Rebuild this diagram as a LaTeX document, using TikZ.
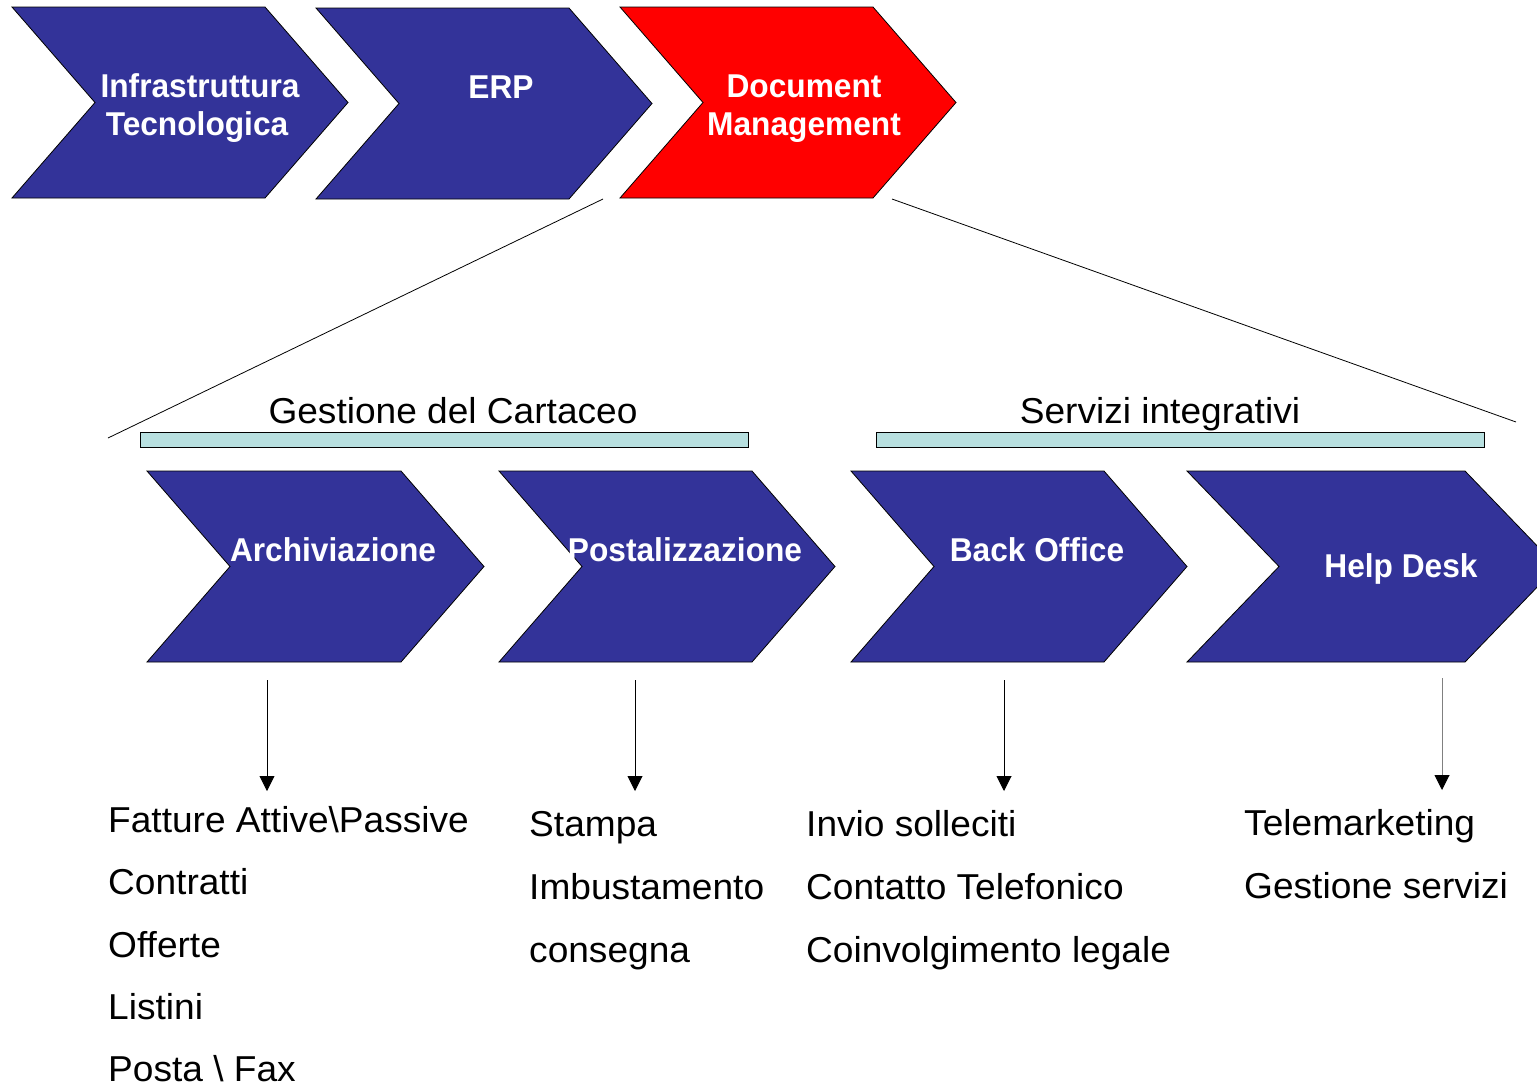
\documentclass[tikz,border=0pt]{standalone}
\usepackage{fontspec}
\setmainfont{Liberation Sans}
\usetikzlibrary{arrows.meta}
\definecolor{chevblue}{HTML}{333399}
\definecolor{chevred}{HTML}{FF0000}
\definecolor{barcyan}{HTML}{B8E0E0}
\tikzset{
  chev/.style={draw=black, line width=0.8pt, line join=miter},
  boldlbl/.style={text=white, font=\fontsize{33}{38}\selectfont\bfseries, inner sep=0pt, anchor=base, xscale=0.96},
  headlbl/.style={text=black, font=\fontsize{36}{42}\selectfont, inner sep=0pt, anchor=base, xscale=1.03},
  reglbl/.style={text=black, font=\fontsize{36}{42}\selectfont, inner sep=0pt, anchor=base west, xscale=1.03},
  bar/.style={draw=black, fill=barcyan, line width=0.9pt},
  thinline/.style={draw=black, line width=0.8pt},
  arr/.style={draw=black, line width=0.9pt, -{Triangle[length=15pt,width=15pt]}},
  arrgray/.style={draw=gray, line width=0.9pt, -{Triangle[length=15pt,width=15pt,color=black,fill=black]}},
}
\begin{document}
\begin{tikzpicture}[x=1pt,y=-1pt]
\useasboundingbox (0,0) rectangle (1537,1088);
\fill[white] (0,0) rectangle (1537,1088);

% top chevrons
\filldraw[chev, fill=chevblue] (12,7) -- (265,7) -- (348,102.5) -- (265,198) -- (12,198) -- (95,102.5) -- cycle;
\filldraw[chev, fill=chevblue] (316,8) -- (569,8) -- (652,103.5) -- (569,199) -- (316,199) -- (399,103.5) -- cycle;
\filldraw[chev, fill=chevred] (620,7) -- (873,7) -- (956,102.5) -- (873,198) -- (620,198) -- (703,102.5) -- cycle;

\node[boldlbl] (t1a) at (200,97) {Infrastruttura};
\node[boldlbl] (t1b) at (197,135) {Tecnologica};
\node[boldlbl] (t2) at (501,98) {ERP};
\node[boldlbl] (t3a) at (804,97) {Document};
\node[boldlbl] (t3b) at (804,135) {Management};

% zoom lines
\coordinate (zl1) at (603,199);
\coordinate (zl2) at (108,438);
\coordinate (zr1) at (892,199);
\coordinate (zr2) at (1516,422);
\draw[thinline] (zl1) -- (zl2);
\draw[thinline] (zr1) -- (zr2);

% group headers and bars
\node[headlbl] (g1) at (453,423) {Gestione del Cartaceo};
\node[headlbl] (g2) at (1160,423) {Servizi integrativi};
\draw[bar] (140,432) rectangle (748,447);
\draw[bar] (876,432) rectangle (1484,447);

% bottom chevrons
\filldraw[chev, fill=chevblue] (147,471) -- (401,471) -- (484,566.5) -- (401,662) -- (147,662) -- (230,566.5) -- cycle;
\filldraw[chev, fill=chevblue] (499,471) -- (752,471) -- (835,566.5) -- (752,662) -- (499,662) -- (582,566.5) -- cycle;
\filldraw[chev, fill=chevblue] (851,471) -- (1104,471) -- (1187,566.5) -- (1104,662) -- (851,662) -- (934,566.5) -- cycle;
\filldraw[chev, fill=chevblue] (1187,471) -- (1465,471) -- (1557,566.5) -- (1465,662) -- (1187,662) -- (1279,566.5) -- cycle;

\node[boldlbl] (b1) at (333,561) {Archiviazione};
\node[boldlbl] (b2) at (685,561) {Postalizzazione};
\node[boldlbl] (b3) at (1037,561) {Back Office};
\node[boldlbl] (b4) at (1401,577) {Help Desk};

% arrows
\coordinate (a1s) at (267,680); \coordinate (a1e) at (267,791);
\coordinate (a2s) at (635,680); \coordinate (a2e) at (635,791);
\coordinate (a3s) at (1004,680); \coordinate (a3e) at (1004,791);
\coordinate (a4s) at (1442,678); \coordinate (a4e) at (1442,790);
\draw[arr] (a1s) -- (a1e);
\draw[arr] (a2s) -- (a2e);
\draw[arr] (a3s) -- (a3e);
\draw[arrgray] (a4s) -- (a4e);

% lists
\node[reglbl] (l11) at (108,832) {Fatture Attive\textbackslash Passive};
\node[reglbl] (l12) at (108,894) {Contratti};
\node[reglbl] (l13) at (108,957) {Offerte};
\node[reglbl] (l14) at (108,1019) {Listini};
\node[reglbl] (l15) at (108,1081) {Posta \textbackslash{} Fax};

\node[reglbl] (l21) at (529,836) {Stampa};
\node[reglbl] (l22) at (529,899) {Imbustamento};
\node[reglbl] (l23) at (529,962) {consegna};

\node[reglbl] (l31) at (806,836) {Invio solleciti};
\node[reglbl] (l32) at (806,899) {Contatto Telefonico};
\node[reglbl] (l33) at (806,962) {Coinvolgimento legale};

\node[reglbl] (l41) at (1244,835) {Telemarketing};
\node[reglbl] (l42) at (1244,898) {Gestione servizi};
\end{tikzpicture}
\end{document}
